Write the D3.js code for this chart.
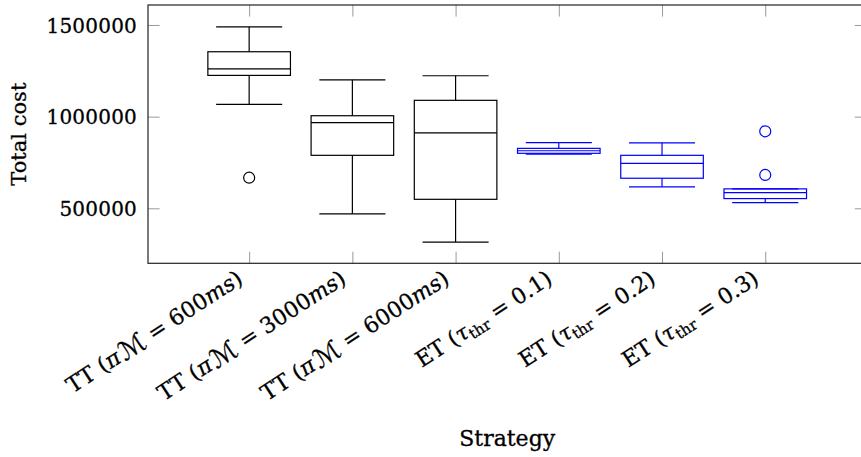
<!DOCTYPE html>
<html>
<head>
<meta charset="utf-8">
<script src="https://cdn.jsdelivr.net/npm/d3@7"></script>
<style>
  html, body { margin: 0; padding: 0; background: #fff; }
  svg { display: block; }
  text { font-family: "DejaVu Serif", serif; fill: #000; stroke: #000; stroke-width: 0.3px; }
</style>
</head>
<body>
<svg id="chart" width="861" height="457"></svg>
<script>
// ---- data ----
const categories = [1, 2, 3, 4, 5, 6];
const labelPrefix = ["TT", "TT", "TT", "ET", "ET", "ET"];
const labelSymbol = ["π", "π", "π", "τ", "τ", "τ"];
const labelSub = ["ℳ", "ℳ", "ℳ", "thr", "thr", "thr"];
const labelValue = ["600", "3000", "6000", "0.1", "0.2", "0.3"];
const labelUnit = ["ms", "ms", "ms", "", "", ""];

const lowerWhisker = [1067000, 470000, 316000, 796000, 617000, 531000];
const lowerQuartile = [1225000, 789000, 549000, 800000, 664000, 553000];
const median = [1261000, 967000, 912000, 814000, 745000, 586000];
const upperQuartile = [1354000, 1005000, 1089000, 827000, 789000, 606000];
const upperWhisker = [1490000, 1201000, 1223000, 858000, 857000, 606000];
const outliers = [[667000], [], [], [], [], [920000, 682000]];
const boxColor = ["#000000", "#000000", "#000000", "#0000ff", "#0000ff", "#0000ff"];

const yTicks = [500000, 1000000, 1500000];
const yLabel = "Total cost";
const xLabel = "Strategy";

// ---- layout ----
const svg = d3.select("#chart");
const pLeft = 148, pRight = 866.4, pTop = 5, pBottom = 263.3;
const x = d3.scaleLinear().domain([0.02, 6.98]).range([pLeft, pRight]);
const y = d3.scaleLinear().domain([200000, 1609000]).range([pBottom, pTop]);
const step = x(2) - x(1);
const boxHalf = 0.4 * step, capHalf = 0.32 * step;
const tickLen = 11.6;

// axes (ticks inside, like pgfplots)
const gL = svg.append("g").attr("transform", `translate(${pLeft},0)`)
  .call(d3.axisLeft(y).tickValues(yTicks).tickFormat(d3.format("d"))
    .tickSizeInner(-tickLen).tickSizeOuter(0).tickPadding(11));
const gR = svg.append("g").attr("transform", `translate(${pRight},0)`)
  .call(d3.axisRight(y).tickValues(yTicks).tickFormat("")
    .tickSizeInner(-tickLen).tickSizeOuter(0));
const gB = svg.append("g").attr("transform", `translate(0,${pBottom})`)
  .call(d3.axisBottom(x).tickValues(categories).tickFormat("")
    .tickSizeInner(-tickLen).tickSizeOuter(0));
const gT = svg.append("g").attr("transform", `translate(0,${pTop})`)
  .call(d3.axisTop(x).tickValues(categories).tickFormat("")
    .tickSizeInner(-tickLen).tickSizeOuter(0));
[gL, gR, gB, gT].forEach(g => {
  g.select(".domain").remove();
  g.selectAll(".tick line").attr("stroke", "#9a9a9a").attr("stroke-width", 1);
});
gL.selectAll(".tick text")
  .attr("font-family", "DejaVu Serif").attr("font-size", 20)
  .attr("letter-spacing", "0.2px").attr("dy", "0.36em").attr("fill", "#000");

// frame
svg.append("rect")
  .attr("x", pLeft).attr("y", pTop)
  .attr("width", pRight - pLeft).attr("height", pBottom - pTop)
  .attr("fill", "none").attr("stroke", "#222").attr("stroke-width", 1.2);

// boxes
const boxes = svg.append("g").attr("fill", "none").attr("stroke-width", 1.2);
categories.forEach((c, i) => {
  const g = boxes.append("g").attr("stroke", boxColor[i]);
  const cx = x(c);
  g.append("line").attr("x1", cx).attr("x2", cx)
    .attr("y1", y(upperQuartile[i])).attr("y2", y(upperWhisker[i]));
  g.append("line").attr("x1", cx).attr("x2", cx)
    .attr("y1", y(lowerQuartile[i])).attr("y2", y(lowerWhisker[i]));
  g.append("line").attr("x1", cx - capHalf).attr("x2", cx + capHalf)
    .attr("y1", y(upperWhisker[i])).attr("y2", y(upperWhisker[i]));
  g.append("line").attr("x1", cx - capHalf).attr("x2", cx + capHalf)
    .attr("y1", y(lowerWhisker[i])).attr("y2", y(lowerWhisker[i]));
  g.append("rect").attr("x", cx - boxHalf).attr("width", 2 * boxHalf)
    .attr("y", y(upperQuartile[i]))
    .attr("height", y(lowerQuartile[i]) - y(upperQuartile[i]))
    .attr("fill", "none");
  g.append("line").attr("x1", cx - boxHalf).attr("x2", cx + boxHalf)
    .attr("y1", y(median[i])).attr("y2", y(median[i]));
  outliers[i].forEach(v => {
    g.append("circle").attr("cx", cx).attr("cy", y(v)).attr("r", 5.5).attr("fill", "none");
  });
});

// rotated category labels
const angle = -33;
categories.forEach((c, i) => {
  const t = svg.append("text")
    .attr("transform", `translate(${x(c) - 5},${pBottom + 19}) rotate(${angle})`)
    .attr("text-anchor", "end").attr("font-size", 22);
  t.append("tspan").text(labelPrefix[i] + " (");
  t.append("tspan").attr("font-style", "italic").text(labelSymbol[i]);
  if (labelSub[i] === "thr") {
    t.append("tspan").attr("font-size", 15).attr("dy", 4).text(labelSub[i]);
    t.append("tspan").attr("dy", -4).text(" = " + labelValue[i]);
  } else {
    t.append("tspan").attr("font-size", 26).attr("font-family", "DejaVu Sans")
      .attr("dx", 2).attr("dy", 2).text(labelSub[i]);
    t.append("tspan").attr("dy", -2).text(" = " + labelValue[i]);
  }
  if (labelUnit[i]) t.append("tspan").attr("font-style", "italic").text(labelUnit[i]);
  t.append("tspan").text(")");
});

// axis titles
svg.append("text")
  .attr("transform", `translate(26,${(pTop + pBottom) / 2}) rotate(-90)`)
  .attr("text-anchor", "middle").attr("font-size", 21).text(yLabel);
svg.append("text")
  .attr("x", (pLeft + pRight) / 2).attr("y", 446)
  .attr("text-anchor", "middle").attr("font-size", 22).text(xLabel);
</script>
</body>
</html>
